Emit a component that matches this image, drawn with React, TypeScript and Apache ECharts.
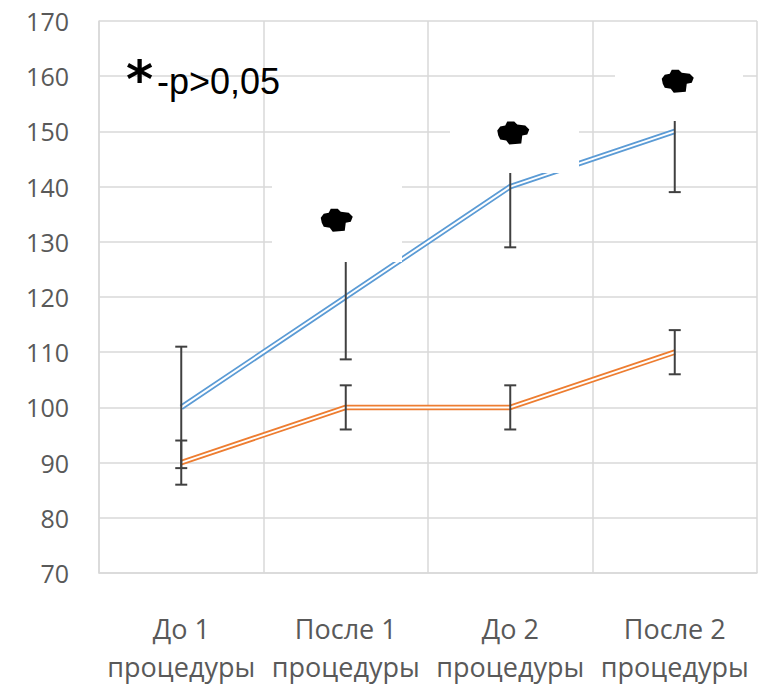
import React, { useEffect, useRef } from 'react';
import * as echarts from 'echarts';

const categories = ['До 1\nпроцедуры', 'После 1\nпроцедуры', 'До 2\nпроцедуры', 'После 2\nпроцедуры'];
const blueValues = [100, 120, 140, 150];
const orangeValues = [90, 100, 100, 110];
const blueErrors = [11, 11.3, 11, 11];
const orangeErrors = [4, 4, 4, 4];
const markCategories = [1, 2, 3];
const markValues = [133.9, 149.7, 159.1];
const markShifts = [-9, 3, 3];
const yMin = 70;
const yMax = 170;
const yStep = 10;
const noteStar = '*';
const noteText = '-p>0,05';

const BLUE = '#5B9BD5';
const ORANGE = '#ED7D31';
const GRID = '#d9d9d9';
const LABEL = '#595959';
const FONT = '"Open Sans", "Noto Sans", sans-serif';

const blobPath =
  'path://M0,9 L3,5 L8,4 L10,0 L17,0 L20,3 L28,4 L32,8 L30,13 L25,14 L24,22 L12,23 L9,19 L3,18 L1,14 Z';

function errorData(values: number[], errs: number[]) {
  return values.map((v, i) => [i, v - errs[i], v + errs[i]]);
}

function renderError(params: any, api: any) {
  const x = api.value(0);
  const lo = api.coord([x, api.value(1)]);
  const hi = api.coord([x, api.value(2)]);
  const cap = 6;
  const style = { stroke: '#404040', lineWidth: 2 };
  return {
    type: 'group',
    children: [
      { type: 'line', shape: { x1: lo[0], y1: lo[1], x2: hi[0], y2: hi[1] }, style },
      { type: 'line', shape: { x1: lo[0] - cap, y1: lo[1], x2: lo[0] + cap, y2: lo[1] }, style },
      { type: 'line', shape: { x1: hi[0] - cap, y1: hi[1], x2: hi[0] + cap, y2: hi[1] }, style },
    ],
  };
}

export default function App() {
  const ref = useRef<HTMLDivElement>(null);
  useEffect(() => {
    if (!ref.current) return;
    const chart = echarts.init(ref.current, null, { renderer: 'svg' });
    const option: any = {
      animation: false,
      backgroundColor: '#ffffff',
      grid: { left: 99, right: 5, top: 21, bottom: 113, containLabel: false },
      xAxis: {
        type: 'category',
        data: categories,
        boundaryGap: true,
        axisLine: { show: true, lineStyle: { color: GRID, width: 1.5 } },
        axisTick: { show: false },
        splitLine: { show: true, lineStyle: { color: GRID, width: 1.5 } },
        axisLabel: {
          color: LABEL,
          fontFamily: FONT,
          fontSize: 27,
          lineHeight: 38,
          margin: 36,
          interval: 0,
        },
      },
      yAxis: {
        type: 'value',
        min: yMin,
        max: yMax,
        interval: yStep,
        axisLine: { show: true, lineStyle: { color: GRID, width: 1.5 } },
        axisTick: { show: false },
        splitLine: { show: true, lineStyle: { color: GRID, width: 1.5 } },
        axisLabel: { color: LABEL, fontFamily: FONT, fontSize: 25, margin: 30 },
      },
      graphic: [
        { type: 'rect', z: 10, shape: { x: 272, y: 150, width: 130, height: 112 }, style: { fill: '#ffffff' } },
        { type: 'rect', z: 10, shape: { x: 450, y: 100, width: 129, height: 73 }, style: { fill: '#ffffff' } },
        { type: 'rect', z: 10, shape: { x: 615, y: 45, width: 128, height: 76 }, style: { fill: '#ffffff' } },
        {
          type: 'text',
          z: 30,
          x: 126,
          y: 79,
          style: { text: noteStar, fill: '#000', font: 'bold 52px "DejaVu Sans", sans-serif', textAlign: 'left', textVerticalAlign: 'middle' },
        },
        {
          type: 'text',
          z: 30,
          x: 157,
          y: 81,
          style: { text: noteText, fill: '#000', font: '36px "Liberation Sans", Arial, sans-serif', textAlign: 'left', textVerticalAlign: 'middle' },
        },
      ],
      series: [
        { type: 'line', data: blueValues, symbol: 'none', lineStyle: { color: BLUE, width: 5.5 }, z: 2 },
        { type: 'line', data: blueValues, symbol: 'none', lineStyle: { color: '#ffffff', width: 2 }, z: 3 },
        { type: 'line', data: orangeValues, symbol: 'none', lineStyle: { color: ORANGE, width: 5.5 }, z: 2 },
        { type: 'line', data: orangeValues, symbol: 'none', lineStyle: { color: '#ffffff', width: 2 }, z: 3 },
        { type: 'custom', data: errorData(blueValues, blueErrors), renderItem: renderError, z: 4 },
        { type: 'custom', data: errorData(orangeValues, orangeErrors), renderItem: renderError, z: 4 },
        {
          type: 'scatter',
          z: 20,
          symbol: blobPath,
          symbolSize: [32, 23],
          itemStyle: { color: '#000000', opacity: 1 },
          data: markCategories.map((c, i) => ({ value: [c, markValues[i]], symbolOffset: [markShifts[i], 0] })),
        },
      ],
    };
    chart.setOption(option);
    return () => chart.dispose();
  }, []);
  return <div ref={ref} style={{ position: 'fixed', left: 0, top: 0, width: 762, height: 686, background: '#fff' }} />;
}
